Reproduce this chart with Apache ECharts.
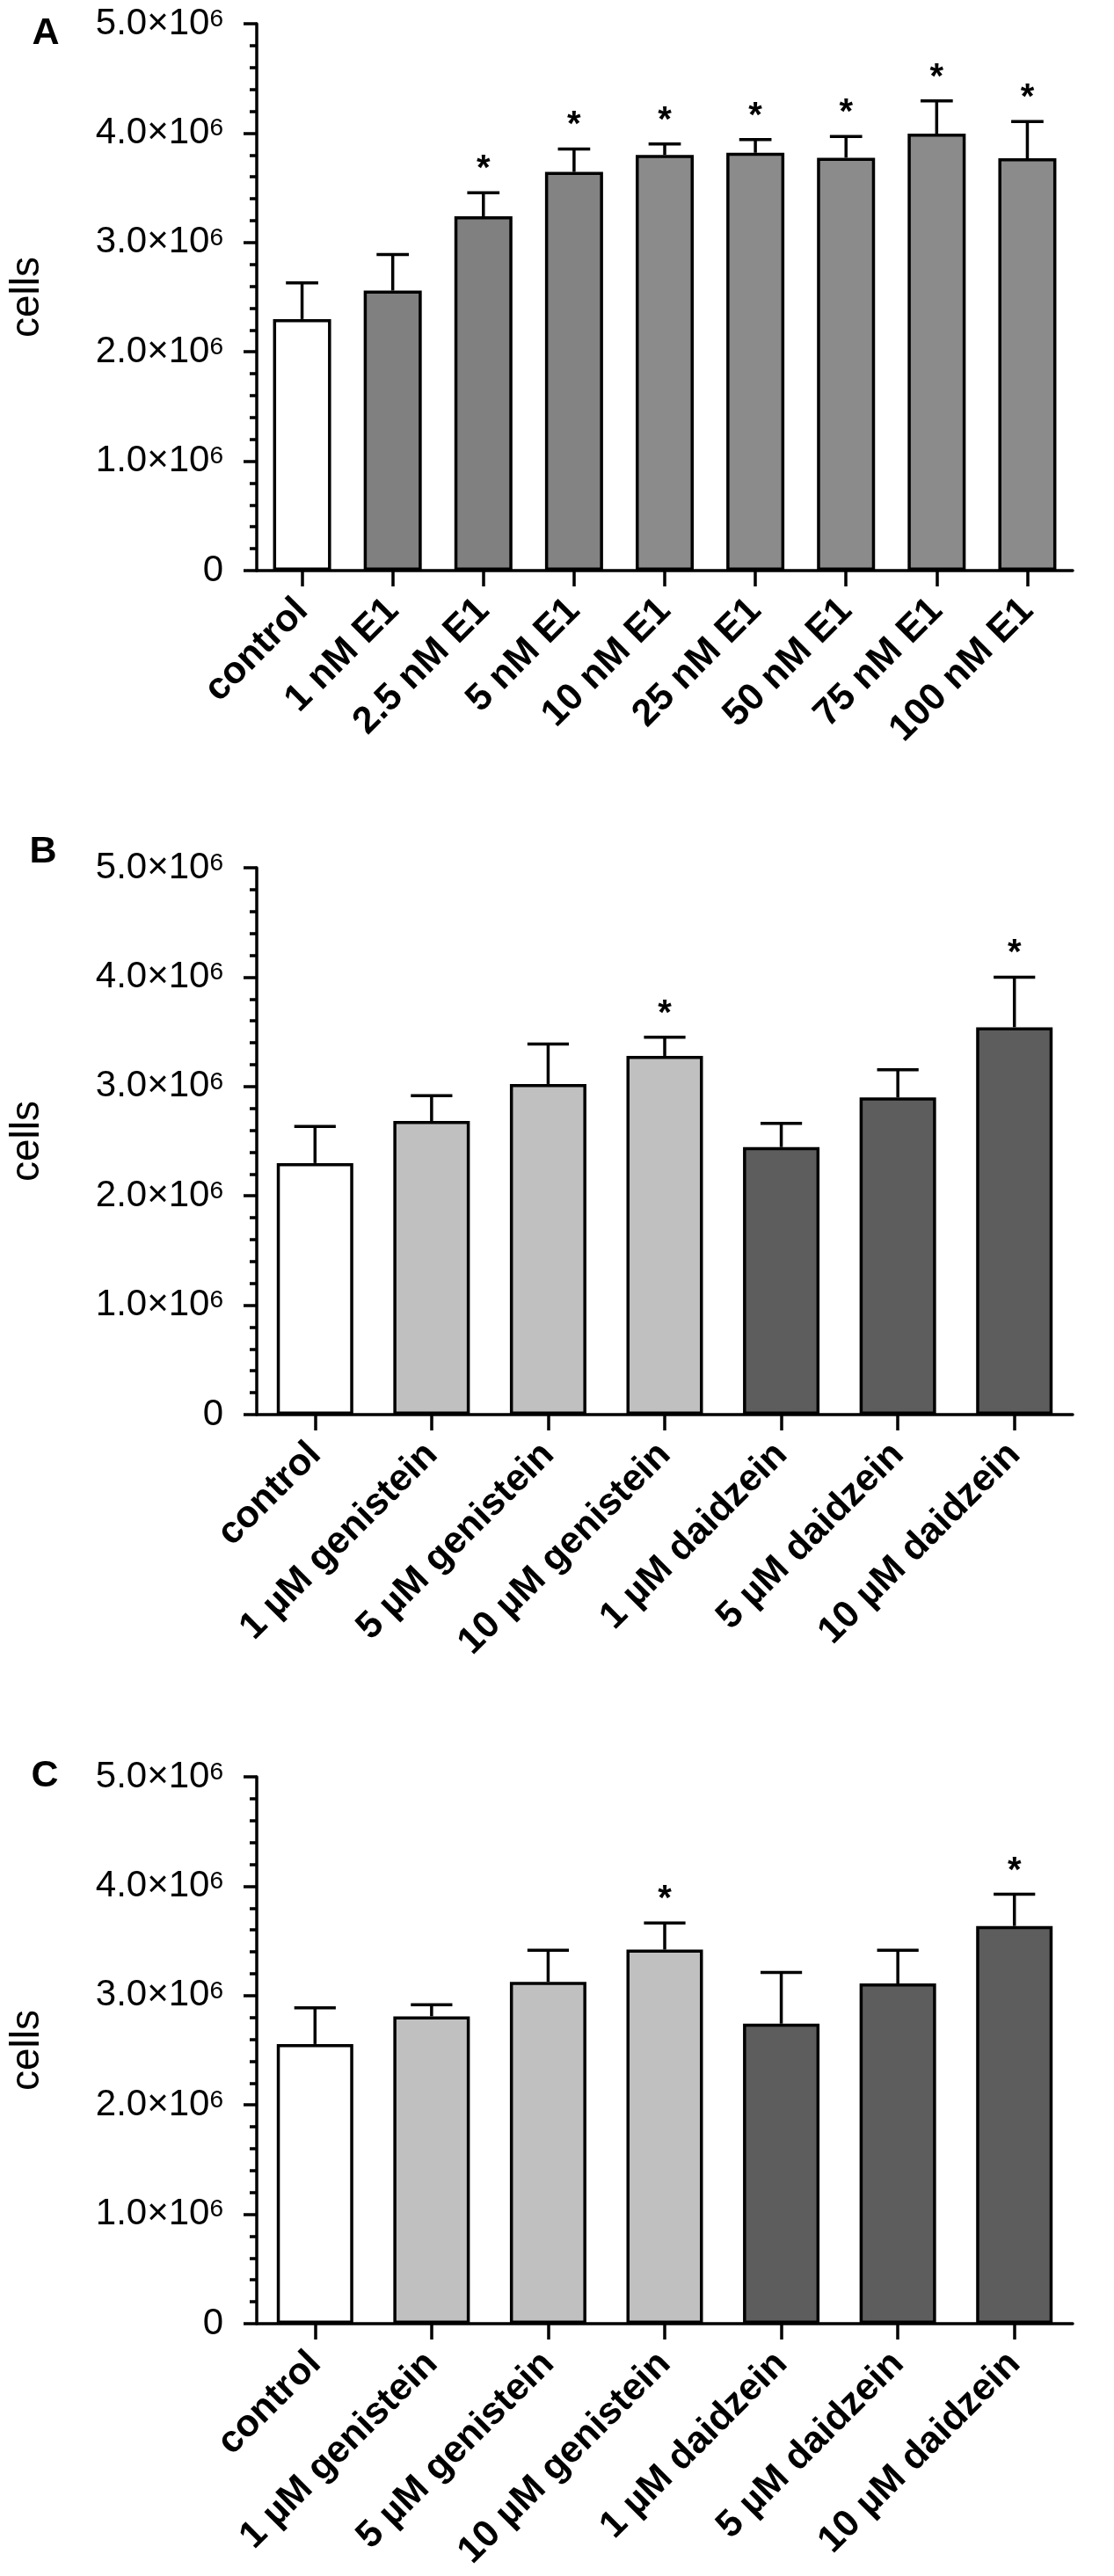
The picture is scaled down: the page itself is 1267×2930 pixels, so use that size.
<!DOCTYPE html>
<html>
<head>
<meta charset="utf-8">
<title>cells</title>
<script src="https://cdn.jsdelivr.net/npm/echarts@6/dist/echarts.min.js"></script>
<style>
  html, body { margin: 0; padding: 0; background: #fff; }
  #chart { width: 1267px; height: 2930px; }
</style>
</head>
<body>
<div id="chart"></div>
<script>
/* -------------------------------------------------------------------------- */
// Data (cell counts in units of 10^6)
var categoriesA = ['control', '1 nM E1', '2.5 nM E1', '5 nM E1', '10 nM E1', '25 nM E1', '50 nM E1', '75 nM E1', '100 nM E1'];
var meansA = [2.30, 2.56, 3.24, 3.645, 3.80, 3.82, 3.775, 3.995, 3.77];
var errorsA = [0.33, 0.33, 0.215, 0.21, 0.10, 0.12, 0.195, 0.30, 0.335];
var starsA = [0, 0, 1, 1, 1, 1, 1, 1, 1];

var categoriesBC = ['control', '1 \u00b5M genistein', '5 \u00b5M genistein', '10 \u00b5M genistein', '1 \u00b5M daidzein', '5 \u00b5M daidzein', '10 \u00b5M daidzein'];
var meansB = [2.30, 2.685, 3.023, 3.28, 2.446, 2.90, 3.542];
var errorsB = [0.335, 0.23, 0.365, 0.17, 0.216, 0.254, 0.458];
var starsB = [0, 0, 0, 1, 0, 0, 1];

var meansC = [2.557, 2.81, 3.125, 3.42, 2.743, 3.11, 3.636];
var errorsC = [0.33, 0.105, 0.29, 0.243, 0.468, 0.305, 0.29];
var starsC = [0, 0, 0, 1, 0, 0, 1];

var yTickLabels = ['0', '1.0', '2.0', '3.0', '4.0', '5.0'];
/* -------------------------------------------------------------------------- */

var FONT = '"Liberation Sans", Arial, Helvetica, sans-serif';
var LINE = 3.5;
var fillsA = ['#ffffff', '#808080', '#808080', '#838383', '#8b8b8b', '#8b8b8b', '#8b8b8b', '#8b8b8b', '#8b8b8b'];
var fillsBC = ['#ffffff', '#c0c0c0', '#c0c0c0', '#c0c0c0', '#5d5d5d', '#5d5d5d', '#5d5d5d'];

var panels = [
  { letter: 'A', lx: 52, ly: 38, top: 27, cats: categoriesA, means: meansA, errors: errorsA, stars: starsA, fills: fillsA, barWidth: 66 },
  { letter: 'B', lx: 49, ly: 969, top: 987, cats: categoriesBC, means: meansB, errors: errorsB, stars: starsB, fills: fillsBC, barWidth: 87 },
  { letter: 'C', lx: 51, ly: 2020, top: 2021, cats: categoriesBC, means: meansC, errors: errorsC, stars: starsC, fills: fillsBC, barWidth: 87 }
];

// upper error bar with cap, plus a star when significant
var renderErrorBar = function renderErrorBar(params, api) {
  var idx = api.value(0);
  var base = api.coord([idx, api.value(1)]);
  var top = api.coord([idx, api.value(1) + api.value(2)]);
  var half = api.size([1, 0])[0] * 0.178;
  var stroke = { stroke: '#000', lineWidth: LINE };
  var children = [
    { type: 'line', shape: { x1: base[0], y1: base[1], x2: top[0], y2: top[1] }, style: stroke },
    { type: 'line', shape: { x1: top[0] - half, y1: top[1], x2: top[0] + half, y2: top[1] }, style: stroke }
  ];
  if (api.value(3)) {
    children.push({
      type: 'text',
      x: top[0],
      y: top[1] - 26,
      style: { text: '*', fill: '#000', fontSize: 40, fontWeight: 'bold', fontFamily: FONT, align: 'center', verticalAlign: 'middle' }
    });
  }
  return { type: 'group', children: children };
};

var grids = [], xAxes = [], yAxes = [], series = [], graphics = [];

panels.forEach(function (p, i) {
  grids.push({ left: 287, width: 933, top: p.top, height: 622, containLabel: false });

  xAxes.push({
    type: 'category',
    gridIndex: i,
    data: p.cats,
    boundaryGap: true,
    axisLine: { show: true, lineStyle: { color: '#000', width: LINE } },
    axisTick: { show: true, alignWithLabel: true, length: 18, lineStyle: { color: '#000', width: LINE } },
    axisLabel: {
      interval: 0,
      rotate: 45,
      margin: 39,
      padding: [60, 0, 0, 0],
      color: '#000',
      fontSize: 43,
      fontWeight: 'bold',
      fontFamily: FONT
    },
    splitLine: { show: false }
  });

  yAxes.push({
    type: 'value',
    gridIndex: i,
    min: 0,
    max: 5,
    interval: 1,
    name: 'cells',
    nameLocation: 'middle',
    nameRotate: 90,
    nameGap: 238,
    nameTextStyle: { color: '#000', fontSize: 46, fontFamily: FONT },
    axisLine: { show: true, lineStyle: { color: '#000', width: LINE } },
    axisTick: { show: true, length: 15, lineStyle: { color: '#000', width: LINE } },
    minorTick: { show: true, splitNumber: 5, length: 8, lineStyle: { color: '#000', width: LINE } },
    splitLine: { show: false },
    minorSplitLine: { show: false },
    axisLabel: {
      margin: 38,
      formatter: function (value) {
        var t = yTickLabels[Math.round(value)];
        return value === 0 ? '{b|0}' : '{b|' + t + '\u00d710}{s|6}';
      },
      rich: {
        b: { color: '#000', fontSize: 42, fontFamily: FONT },
        s: { color: '#000', fontSize: 28, fontFamily: FONT, padding: [0, 0, 10, 0] }
      }
    }
  });

  series.push({
    type: 'bar',
    xAxisIndex: i,
    yAxisIndex: i,
    barWidth: p.barWidth,
    data: p.means.map(function (v, k) {
      return { value: v, itemStyle: { color: p.fills[k] } };
    }),
    itemStyle: { borderColor: '#000', borderWidth: LINE },
    emphasis: { disabled: true },
    z: 2
  });

  series.push({
    type: 'custom',
    xAxisIndex: i,
    yAxisIndex: i,
    renderItem: renderErrorBar,
    encode: { x: 0, y: 1 },
    data: p.means.map(function (v, k) {
      return [k, v, p.errors[k], p.stars[k]];
    }),
    z: 3
  });

  graphics.push({
    type: 'text',
    x: p.lx,
    y: p.ly,
    style: { text: p.letter, fill: '#000', fontSize: 43, fontWeight: 'bold', fontFamily: FONT, align: 'center', verticalAlign: 'middle' }
  });
});

var chart = echarts.init(document.getElementById('chart'), null, { renderer: 'canvas' });
chart.setOption({
  animation: false,
  backgroundColor: '#ffffff',
  grid: grids,
  xAxis: xAxes,
  yAxis: yAxes,
  series: series,
  graphic: graphics
});
</script>
</body>
</html>
